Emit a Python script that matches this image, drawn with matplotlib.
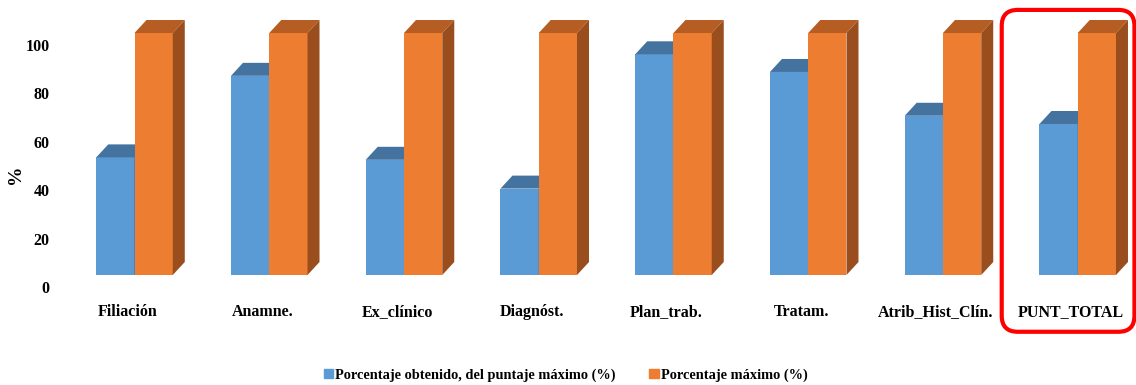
import numpy as np
import matplotlib
matplotlib.use("Agg")
import matplotlib.pyplot as plt
from matplotlib.patches import Polygon, FancyBboxPatch, Patch
from matplotlib.transforms import ScaledTranslation, IdentityTransform

categorias = ["Filiación", "Anamne.", "Ex_clínico", "Diagnóst.", "Plan_trab.",
              "Tratam.", "Atrib_Hist_Clín.", "PUNT_TOTAL"]
obtenido = [48.6, 82.3, 47.6, 35.7, 91.2, 83.9, 65.8, 62.4]
maximo = [100, 100, 100, 100, 100, 100, 100, 100]
nombres = ["Porcentaje obtenido, del puntaje máximo (%)", "Porcentaje máximo (%)"]

# front / top / side shades for each series
col_azul = ("#5b9bd5", "#44739f", "#3e6a93")
col_naranja = ("#ed7d31", "#b55d22", "#9a4e1d")

plt.rcParams["font.family"] = ["Liberation Serif", "DejaVu Serif"]
plt.rcParams["font.weight"] = "bold"

fig = plt.figure(figsize=(11.36, 3.85), dpi=100)
ax = fig.add_axes([70 / 1136, 98 / 385, 1060 / 1136, 266.2 / 385])

x = np.arange(len(categorias))
w = 0.284
ax.set_xlim(-0.4787, 7.388)
ax.set_ylim(0, 110)
ax.autoscale(False)

# front faces sit a little above the floor line, depth goes up-right
lift = ScaledTranslation(0, 12 / 100, fig.dpi_scale_trans)
ddx, ddy = 12, 13


def barras(xs, vals, cols, z):
    rects = ax.bar(xs, vals, w, color=cols[0], zorder=z, linewidth=0)
    for r in rects:
        r.set_transform(ax.transData + lift)
        r.set_clip_on(False)
        x0, x1 = r.get_x(), r.get_x() + r.get_width()
        h = r.get_height()
        (ax0, ay0), (ax1, ay1) = (ax.transData + lift).transform([(x0, 0), (x1, h)])
        top = [(ax0, ay1), (ax1, ay1), (ax1 + ddx, ay1 + ddy), (ax0 + ddx, ay1 + ddy)]
        side = [(ax1, ay0), (ax1 + ddx, ay0 + ddy), (ax1 + ddx, ay1 + ddy), (ax1, ay1)]
        ax.add_patch(Polygon(top, closed=True, facecolor=cols[1], lw=0,
                             transform=IdentityTransform(), clip_on=False, zorder=z))
        ax.add_patch(Polygon(side, closed=True, facecolor=cols[2], lw=0,
                             transform=IdentityTransform(), clip_on=False, zorder=z))


barras(x - w / 2, obtenido, col_azul, 2)
barras(x + w / 2, maximo, col_naranja, 3)

for s in ax.spines.values():
    s.set_visible(False)
ax.tick_params(length=0)
ax.tick_params(axis="y", labelsize=11.5, pad=14.5)
ax.set_yticks([0, 20, 40, 60, 80, 100])
ax.set_xticks(x)
ax.set_xticklabels([])
# category names on a common baseline below the floor
lab_tr = ax.get_xaxis_transform() + ScaledTranslation(-7 / 100, -29 / 100, fig.dpi_scale_trans)
for xi, nombre in zip(x, categorias):
    ax.text(xi, 0, nombre, transform=lab_tr, ha="center", va="baseline",
            fontsize=11.5, fontweight="bold", clip_on=False)
fig.text(16 / 1136, 1 - 174 / 385, "%", rotation=90, ha="center", va="center",
         fontsize=14, fontweight="bold")

# red frame around the total
p0 = ax.transData.transform((x[-1] - 0.564, 114.5))
p1 = ax.transData.transform((x[-1] + 0.421, -18.5))
marco = FancyBboxPatch((p0[0], p1[1]), p1[0] - p0[0], p0[1] - p1[1],
                       boxstyle="round,pad=0,rounding_size=16",
                       facecolor="none", edgecolor="#ff0000", lw=3,
                       transform=IdentityTransform(), clip_on=False, zorder=5)
ax.add_patch(marco)

handles = [Patch(color=col_azul[0]), Patch(color=col_naranja[0])]
fig.legend(handles, nombres, loc="lower center", bbox_to_anchor=(0.498, -0.025),
           ncol=2, frameon=False, fontsize=10.4, handlelength=0.65,
           handleheight=0.65, handletextpad=0.15, columnspacing=2.3)

fig.savefig("out.png", dpi=100)
